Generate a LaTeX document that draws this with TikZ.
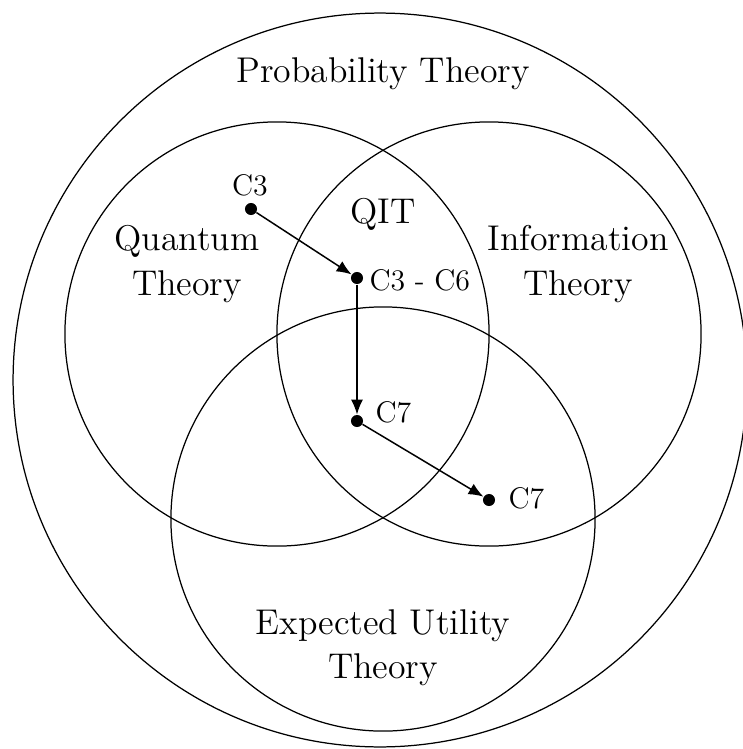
\documentclass[tikz,border=0pt]{standalone}
\usetikzlibrary{arrows.meta}
\begin{document}
\begin{tikzpicture}[x=0.014144cm, y=-0.014144cm,
  ring/.style={draw=black, line width=0.5pt},
  dot/.style={circle, fill=black, inner sep=0pt, minimum size=0.17cm},
  bigtext/.style={font=\fontsize{14.4}{17.8}\selectfont, align=center, inner sep=0pt},
  smalltext/.style={font=\fontsize{12}{14}\selectfont, inner sep=0pt},
  link/.style={-{Latex[length=2.1mm, width=1.7mm]}, line width=0.6pt}]
\useasboundingbox (0,0) rectangle (743,749);
\clip (0,0) rectangle (743,749);
% circles
\draw[ring] (380,380) circle[radius=5.19cm];
\draw[ring] (277,334) circle[radius=3.0cm];
\draw[ring] (489,334) circle[radius=3.0cm];
\draw[ring] (383,519) circle[radius=3.0cm];
% region labels
\node[bigtext] (prob) at (383,74) {Probability Theory};
\node[bigtext] (quant) at (187,264) {Quantum\\Theory};
\node[bigtext] (info) at (578,264) {Information\\Theory};
\node[bigtext] (qit) at (383,214) {QIT};
\node[bigtext] (eut) at (383,648) {Expected Utility\\Theory};
% points
\node[dot] (p1) at (251,209) {};
\node[dot] (p2) at (357,278) {};
\node[dot] (p3) at (357,421) {};
\node[dot] (p4) at (489,500) {};
\node[smalltext] (l1) at (250,185) {C3};
\node[smalltext, anchor=west] (l2) at (369,280) {C3 - C6};
\node[smalltext, anchor=west] (l3) at (375,412) {C7};
\node[smalltext, anchor=west] (l4) at (508,498) {C7};
% arrows
\draw[link] (p1) -- (p2);
\draw[link] (p2) -- (p3);
\draw[link] (p3) -- (p4);
\end{tikzpicture}
\end{document}
